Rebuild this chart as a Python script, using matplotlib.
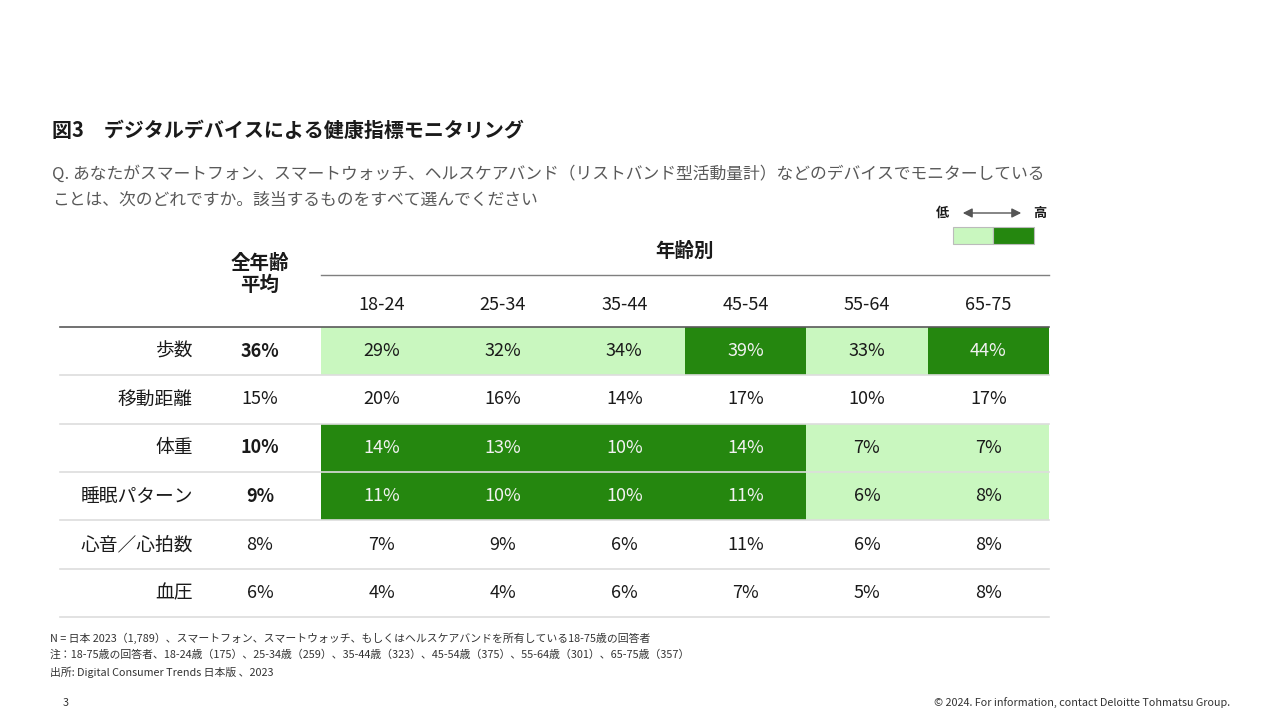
import matplotlib
matplotlib.use('Agg')
import matplotlib.pyplot as plt
from matplotlib.patches import Rectangle

plt.rcParams['font.family'] = ['Noto Sans CJK JP', 'DejaVu Sans']

# データ
items = ['歩数', '移動距離', '体重', '睡眠パターン', '心音／心拍数', '血圧']
age_groups = ['18-24', '25-34', '35-44', '45-54', '55-64', '65-75']
avg_all = [36, 15, 10, 9, 8, 6]
by_age = [
    [29, 32, 34, 39, 33, 44],
    [20, 16, 14, 17, 10, 17],
    [14, 13, 10, 14, 7, 7],
    [11, 10, 10, 11, 6, 8],
    [7, 9, 6, 11, 6, 8],
    [4, 4, 6, 7, 5, 8],
]
# 0 = なし, 1 = 低, 2 = 高
level = [
    [1, 1, 1, 2, 1, 2],
    [0, 0, 0, 0, 0, 0],
    [2, 2, 2, 2, 1, 1],
    [2, 2, 2, 2, 1, 1],
    [0, 0, 0, 0, 0, 0],
    [0, 0, 0, 0, 0, 0],
]

title = '図3　デジタルデバイスによる健康指標モニタリング'
question = ['Q. あなたがスマートフォン、スマートウォッチ、ヘルスケアバンド（リストバンド型活動量計）などのデバイスでモニターしている',
            'ことは、次のどれですか。該当するものをすべて選んでください']
notes = ['N = 日本 2023（1,789）、スマートフォン、スマートウォッチ、もしくはヘルスケアバンドを所有している18-75歳の回答者',
         '注：18-75歳の回答者、18-24歳（175）、25-34歳（259）、35-44歳（323）、45-54歳（375）、55-64歳（301）、65-75歳（357）',
         '出所: Digital Consumer Trends 日本版 、2023']

LIGHT = '#c9f7bf'
DARK = '#25870f'
TXT = '#1a1a1a'

fig = plt.figure(figsize=(12.8, 7.2), dpi=100)
ax = fig.add_axes([0, 0, 1, 1])
ax.set_xlim(0, 1280)
ax.set_ylim(720, 0)
ax.axis('off')

# タイトル
ax.text(52, 130, title, fontsize=14.4, fontweight='bold', color=TXT, va='center')
ax.text(52, 174, question[0], fontsize=12.1, color='#595959', va='center')
ax.text(52, 200, question[1], fontsize=12.1, color='#595959', va='center')

# 凡例
ax.text(943, 213, '低', fontsize=9.5, fontweight='bold', color=TXT, ha='center', va='center')
ax.text(1040, 213, '高', fontsize=9.5, fontweight='bold', color=TXT, ha='center', va='center')
ax.annotate('', xy=(1024, 213), xytext=(960, 213),
            arrowprops=dict(arrowstyle='<|-|>', color='#555555', lw=1, mutation_scale=14))
ax.add_patch(Rectangle((953, 227), 40, 17, facecolor=LIGHT, edgecolor='#bbbbbb', lw=0.8))
ax.add_patch(Rectangle((993, 227), 41, 17, facecolor=DARK, edgecolor='#bbbbbb', lw=0.8))

# 表
x_left, x_right = 60, 1049
x0 = 321
col_w = (x_right - x0) / len(age_groups)
y0 = 327
row_h = (617 - y0) / len(items)
label_x = 193
avg_x = 260
fs = 13

ax.text(avg_x, 263, '全年齢', fontsize=14, fontweight='bold', color=TXT, ha='center', va='center')
ax.text(avg_x, 285, '平均', fontsize=14, fontweight='bold', color=TXT, ha='center', va='center')
ax.text((x0 + x_right) / 2, 251, '年齢別', fontsize=14, fontweight='bold', color=TXT, ha='center', va='center')
ax.plot([x0, x_right], [275, 275], color='#7f7f7f', lw=1)
for j, g in enumerate(age_groups):
    ax.text(x0 + (j + 0.5) * col_w, 305, g, fontsize=fs, color=TXT, ha='center', va='center')

for i, name in enumerate(items):
    top = y0 + i * row_h
    cy = top + row_h / 2
    for j, v in enumerate(by_age[i]):
        lv = level[i][j]
        if lv:
            ax.add_patch(Rectangle((x0 + j * col_w, top), col_w, row_h,
                                   facecolor=LIGHT if lv == 1 else DARK, edgecolor='none'))
        ax.text(x0 + (j + 0.5) * col_w, cy, f'{v}%', fontsize=fs,
                color='#f2f2f2' if lv == 2 else TXT, ha='center', va='center')
    bold = any(level[i])
    ax.text(label_x, cy, name, fontsize=13.5, color=TXT, ha='right', va='center')
    ax.text(avg_x, cy, f'{avg_all[i]}%', fontsize=fs, color=TXT, ha='center', va='center',
            fontweight='bold' if bold else 'normal')
    ax.plot([x_left, x_right], [top + row_h, top + row_h], color='#dddddd', lw=1.2)

ax.plot([x_left, x_right], [y0, y0], color='#595959', lw=1.2)

# 注記
for k, n in enumerate(notes):
    ax.text(50, 638 + k * 17, n, fontsize=7.8, color='#333333', va='center')
ax.text(66, 703, '3', fontsize=7.8, color='#333333', ha='center', va='center')
ax.text(1230, 703, '© 2024. For information, contact Deloitte Tohmatsu Group.', fontsize=7.8,
        color='#333333', ha='right', va='center')

fig.savefig('out.png', dpi=100)
